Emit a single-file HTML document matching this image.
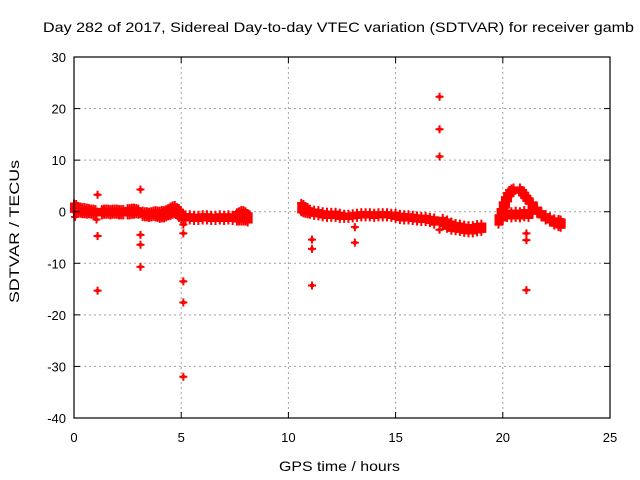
<!DOCTYPE html>
<html><head><meta charset="utf-8"><style>body{margin:0;background:#fff}svg{display:block}text{font-family:"Liberation Sans",sans-serif;font-size:13px;fill:#000}</style></head>
<body>
<svg id="chart" width="640" height="480" viewBox="0 0 640 480" xmlns="http://www.w3.org/2000/svg">
<text x="43" y="32" style="font-size:14px" textLength="591" lengthAdjust="spacingAndGlyphs">Day 282 of 2017, Sidereal Day-to-day VTEC variation (SDTVAR) for receiver gamb</text>
<g id="grid"></g><g id="marks"></g><g id="axes"></g>
<text x="279" y="471" style="font-size:14px" textLength="121" lengthAdjust="spacingAndGlyphs">GPS time / hours</text>
<text transform="translate(19,303) rotate(-90)" style="font-size:14px" textLength="143" lengthAdjust="spacingAndGlyphs">SDTVAR / TECUs</text>
</svg>
<script>
const xTicks=[0,5,10,15,20,25];
const yTicks=[30,20,10,0,-10,-20,-30,-40];
const bandHours=[0.0,0.1,0.2,0.3,0.4,0.5,0.6,0.7,0.8,0.9,1.0,1.3,1.4,1.5,1.6,1.7,1.8,1.9,2.0,2.1,2.2,2.3,2.5,2.6,2.7,2.8,2.9,3.0,3.2,3.3,3.4,3.5,3.6,3.7,3.8,3.9,4.0,4.1,4.2,4.3,4.4,4.5,4.6,4.7,4.8,4.9,5.0,5.2,5.4,5.6,5.8,6.0,6.2,6.4,6.6,6.8,7.0,7.2,7.4,7.6,7.7,7.8,7.9,8.0,8.1,10.6,10.7,10.8,10.9,11.0,11.2,11.4,11.6,11.8,12.0,12.2,12.4,12.6,12.8,13.0,13.2,13.4,13.6,13.8,14.0,14.2,14.4,14.6,14.8,15.0,15.2,15.4,15.6,15.8,16.0,16.2,16.4,16.6,16.8,17.2,17.4,17.6,17.8,18.0,18.2,18.4,18.6,18.8,19.0,19.8,19.9,20.0,20.1,20.2,20.3,20.4,20.5,20.8,20.9,21.0,21.1,21.2,21.4,21.6,21.8,22.0,22.2,22.4,22.6,22.7,20.0,20.2,20.4,20.6,20.8,21.0,21.2];
const bandValues=[0.8,0.6,0.4,0.3,0.2,0.2,0.1,0.1,0.0,0.0,-0.1,-0.1,0.0,0.0,0.0,-0.1,0.0,0.0,0.0,-0.1,-0.1,-0.1,0.0,0.0,0.1,0.1,0.1,0.0,-0.4,-0.5,-0.5,-0.6,-0.5,-0.4,-0.4,-0.5,-0.6,-0.5,-0.5,-0.3,-0.1,0.1,0.3,0.4,0.1,-0.4,-0.8,-1.1,-1.1,-1.2,-1.2,-1.1,-1.1,-1.2,-1.2,-1.1,-1.2,-1.1,-1.2,-1.0,-0.9,-0.8,-0.8,-0.9,-1.2,0.8,0.6,0.3,0.1,0.0,-0.2,-0.3,-0.5,-0.6,-0.6,-0.6,-0.8,-0.9,-0.9,-0.8,-0.7,-0.6,-0.6,-0.6,-0.7,-0.6,-0.6,-0.6,-0.7,-0.8,-1.0,-1.1,-1.1,-1.2,-1.3,-1.4,-1.4,-1.6,-1.8,-2.0,-2.4,-2.8,-3.0,-3.1,-3.3,-3.4,-3.4,-3.2,-3.1,-1.6,-0.5,0.8,1.8,2.8,3.6,4.0,4.2,4.2,3.7,3.2,2.6,2.1,1.2,0.2,-0.5,-1.1,-1.5,-2.0,-2.2,-2.3,-0.8,-0.5,-0.6,-0.5,-0.6,-0.4,-0.5];
const bandSpread=[0.8,0.7,0.7,0.7,0.7,0.7,0.7,0.6,0.6,0.6,0.6,0.6,0.6,0.6,0.6,0.6,0.6,0.6,0.6,0.6,0.6,0.6,0.7,0.7,0.7,0.7,0.6,0.6,0.6,0.6,0.6,0.6,0.6,0.6,0.7,0.7,0.8,0.8,0.8,0.8,0.8,0.9,0.9,0.9,0.8,0.8,0.7,0.6,0.6,0.6,0.6,0.6,0.6,0.6,0.6,0.6,0.6,0.6,0.6,0.9,1.0,1.1,1.1,1.0,0.9,0.9,0.9,0.7,0.6,0.6,0.6,0.6,0.6,0.6,0.6,0.6,0.6,0.5,0.5,0.5,0.5,0.5,0.5,0.5,0.5,0.5,0.5,0.5,0.5,0.6,0.6,0.6,0.6,0.6,0.6,0.6,0.6,0.6,0.7,0.8,0.9,0.9,0.8,0.8,0.8,0.8,0.8,0.8,0.8,0.9,1.0,1.0,1.0,0.8,0.6,0.5,0.5,0.5,0.5,0.5,0.5,0.5,0.6,0.6,0.6,0.6,0.6,0.7,0.8,0.8,0.9,0.7,0.7,0.7,0.7,0.7,0.7,0.7];
const outHours=[0.1,0.05,1.1,1.05,1.1,1.1,3.1,3.1,3.1,3.1,5.1,5.1,5.1,5.1,5.1,11.1,11.1,11.1,13.1,13.1,17.05,17.05,17.05,17.05,21.1,21.1,21.1];
const outValues=[1.5,-1.0,3.3,-1.5,-4.7,-15.3,4.3,-4.5,-6.4,-10.7,-2.5,-4.2,-13.5,-17.6,-32.0,-5.4,-7.2,-14.3,-3.0,-6.0,22.3,16.0,10.7,-3.5,-4.2,-5.5,-15.2];

const L=74,R=610,T=57,B=418,xMin=0,xMax=25,yMin=-40,yMax=30;
const sx=v=>L+(v-xMin)/(xMax-xMin)*(R-L);
const sy=v=>B-(v-yMin)/(yMax-yMin)*(B-T);
const NS='http://www.w3.org/2000/svg';
function mk(tag,parent,attrs){const e=document.createElementNS(NS,tag);for(const k in attrs)e.setAttribute(k,attrs[k]);parent.appendChild(e);return e;}
const grid=document.getElementById('grid'),marks=document.getElementById('marks'),axes=document.getElementById('axes');
xTicks.forEach(t=>{
  if(t>xMin&&t<xMax){const g=mk('line',grid,{x1:sx(t),x2:sx(t),y1:T,y2:B,stroke:'#a0a0a0','stroke-dasharray':'2,3'});
  
  }
  mk('line',axes,{x1:sx(t),x2:sx(t),y1:B,y2:B-6,stroke:'#000'});
  mk('line',axes,{x1:sx(t),x2:sx(t),y1:T,y2:T+6,stroke:'#000'});
  const tx=mk('text',axes,{x:sx(t),y:B+24,'text-anchor':'middle'});tx.textContent=t;
  
  
});
yTicks.forEach(t=>{
  if(t>yMin&&t<yMax){const g=mk('line',grid,{x1:L,x2:R,y1:sy(t),y2:sy(t),stroke:'#a0a0a0','stroke-dasharray':'2,3'});
  
  }
  mk('line',axes,{x1:L,x2:L+6,y1:sy(t),y2:sy(t),stroke:'#000'});
  mk('line',axes,{x1:R,x2:R-6,y1:sy(t),y2:sy(t),stroke:'#000'});
  const tx=mk('text',axes,{x:L-8,y:sy(t)+5,'text-anchor':'end'});tx.textContent=t;
  
  
});
const box=mk('rect',axes,{x:L,y:T,width:R-L,height:B-T,fill:'none',stroke:'#000','stroke-width':1.2});


function plus(x,y){mk('path',marks,{d:`M${x-4},${y}h8M${x},${y-4}v8`,stroke:'#f00','stroke-width':2});}
bandHours.forEach((h,i)=>{
  const x=sx(h),v=bandValues[i],s=bandSpread[i];
  const r=mk('rect',marks,{x:x-4,y:sy(v+s)-1,width:9,height:sy(v-s)-sy(v+s)+2,fill:'#f00'});
  
  
  plus(x,sy(v+s));plus(x,sy(v-s));
});
outHours.forEach((h,i)=>{
  const x=sx(h),y=sy(outValues[i]);
  const p=mk('path',marks,{d:`M${x-4},${y}h8M${x},${y-4}v8`,stroke:'#f00','stroke-width':2});
  
  
  mk('rect',marks,{x:x-2,y:y-1.5,width:4,height:3,fill:'#f00'});
});
</script>
</body></html>
